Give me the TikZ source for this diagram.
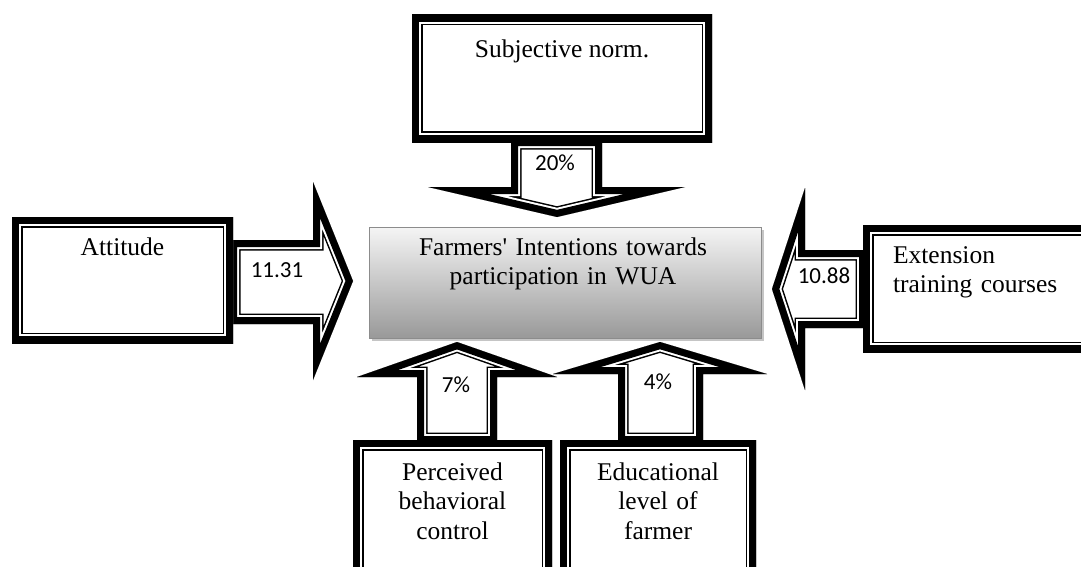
\documentclass[tikz,border=0pt]{standalone}
\usepackage{fontspec}
\setmainfont{Liberation Serif}
\newfontfamily\calfont{Carlito}
\newfontfamily\rawserif{Liberation Serif}
\usepackage{tikz}
\usetikzlibrary{positioning, shadows}

% thick-thin frame drawn inside the outline
\newcommand{\thickthin}[1]{%
  \fill[white] #1;
  \begin{scope}
    \clip #1;
    \draw[line width=21pt] #1;
    \draw[line width=18pt, white] #1;
    \draw[line width=14pt] #1;
  \end{scope}}

\begin{document}
\begin{tikzpicture}[
    x=1pt, y=-1pt,
    txt/.style={
      inner sep=0pt, anchor=base,
      font=\fontsize{25.5}{29.5}\selectfont
    },
    mtxt/.style={txt, text width=#1, align=center},
    num/.style={
      inner sep=0pt, anchor=base,
      font=\calfont\fontsize{23}{26}\selectfont
    },
    goalbox/.style={
      draw=black!45, line width=0.8pt,
      top color=white!96!black, bottom color=black!40,
      minimum width=392pt, minimum height=111pt,
      drop shadow={shadow xshift=3pt, shadow yshift=-3pt,
                   fill=black!45, opacity=0.5}
    }
  ]
    \useasboundingbox (0,0) rectangle (1081,567);
    \clip (0,0) rectangle (1081,567);

    % ── Arrows ──
    \thickthin{(511,139) -- (602,139) -- (602,187) -- (685,187) --
      (557,217) -- (428,187) -- (511,187) -- cycle}
    \thickthin{(230,240) -- (313,240) -- (313,182) -- (353,281) --
      (313,380) -- (313,324) -- (230,324) -- cycle}
    \thickthin{(866,250) -- (805,250) -- (805,188) -- (772,289) --
      (805,390) -- (805,328) -- (866,328) -- cycle}
    \thickthin{(417,443) -- (417,377) -- (357,377) -- (457,342) --
      (557,377) -- (497,377) -- (497,443) -- cycle}
    \thickthin{(618,443) -- (618,374) -- (553,374) -- (660,342) --
      (767,374) -- (703,374) -- (703,443) -- cycle}

    % ── Factor boxes ──
    \thickthin{(412,15) rectangle (712,142)}
    \thickthin{(12,217) rectangle (233,343)}
    \thickthin{(863,225) rectangle (1095,352)}
    \thickthin{(353,440) rectangle (552,590)}
    \thickthin{(560,440) rectangle (756,590)}

    \node[txt] (subj) at (562,58) {Subjective norm.};
    \node[txt] (att) at (122.5,255) {Attitude};
    \node[txt, text width=200pt, align=left] (ext) at (993,263)
      {Extension\\training courses};
    \node[mtxt=180pt] (pbc) at (452.5,480)
      {Perceived\\behavioral\\control};
    \node[mtxt=180pt] (edu) at (658,480)
      {Educational\\level of\\farmer};

    % ── Intention box ──
    \node[goalbox] (goal) at (565,282.5) {};
    \node[mtxt=380pt] (goaltxt) at (563,255)
      {Farmers{\rawserif'} Intentions towards\\participation in WUA};

    % ── Weights ──
    \node[num] (wsubj) at (555,170) {20\%};
    \node[num] (watt) at (277,277) {11.31};
    \node[num] (wext) at (824,283) {10.88};
    \node[num] (wpbc) at (456,392) {7\%};
    \node[num] (wedu) at (658,389) {4\%};

  \end{tikzpicture}
\end{document}
